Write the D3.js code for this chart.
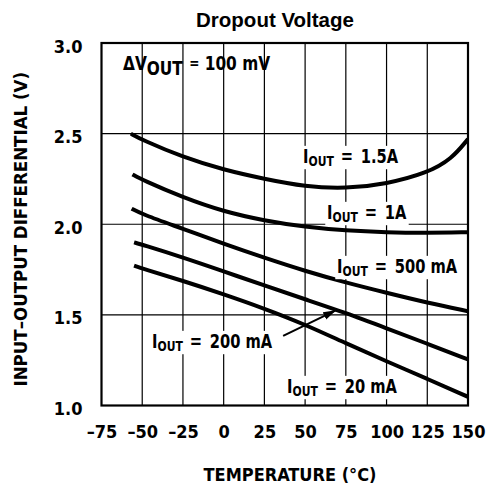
<!DOCTYPE html>
<html>
<head>
<meta charset="utf-8">
<script src="https://cdn.jsdelivr.net/npm/d3@7"></script>
<style>
  body { margin: 0; background: #fff; }
  text { font-family: "DejaVu Sans Condensed", "Liberation Sans Narrow", sans-serif; font-weight: bold; fill: #000; }
</style>
</head>
<body>
<div id="chart"></div>
<script>
// tick values
const tempTicks = [-75, -50, -25, 0, 25, 50, 75, 100, 125, 150];
const voltTicks = [1.0, 1.5, 2.0, 2.5, 3.0];

// curves, [temperature, volts]
const curve1500mA = [[-57, 2.50], [-50, 2.465], [-25, 2.37], [0, 2.30], [25, 2.25], [50, 2.207], [75, 2.196], [100, 2.222], [125, 2.283], [140, 2.36], [150, 2.47]];
const curve1000mA = [[-56, 2.275], [-50, 2.245], [-25, 2.148], [0, 2.07], [25, 2.02], [50, 1.985], [75, 1.965], [100, 1.955], [125, 1.952], [150, 1.956]];
const curve500mA = [[-56.5, 2.086], [-50, 2.055], [-25, 1.975], [0, 1.892], [25, 1.815], [50, 1.742], [75, 1.678], [100, 1.622], [125, 1.567], [150, 1.52]];
const curve200mA = [[-55, 1.90], [-50, 1.887], [-25, 1.817], [0, 1.74], [25, 1.662], [50, 1.586], [75, 1.511], [100, 1.426], [125, 1.341], [150, 1.254]];
const curve20mA = [[-55, 1.772], [-50, 1.756], [-25, 1.688], [0, 1.614], [25, 1.535], [50, 1.447], [75, 1.343], [100, 1.244], [125, 1.147], [150, 1.048]];

const curveLabels = ["1.5A", "1A", "500 mA", "200 mA", "20 mA"];

const width = 486, height = 485;
const margin = {left: 101.5, right: 18, top: 43, bottom: 79.5};

const svg = d3.select("#chart").append("svg")
  .attr("width", width)
  .attr("height", height);

const x = d3.scaleLinear().domain([-75, 150]).range([margin.left, width - margin.right]);
const y = d3.scaleLinear().domain([1.0, 3.0]).range([height - margin.bottom, margin.top]);

// grid
svg.append("g").selectAll("line")
  .data(tempTicks.slice(1, -1))
  .join("line")
  .attr("x1", d => x(d)).attr("x2", d => x(d))
  .attr("y1", y(1)).attr("y2", y(3))
  .attr("stroke", "#000").attr("stroke-width", 1.2);

svg.append("g").selectAll("line")
  .data(voltTicks.slice(1, -1))
  .join("line")
  .attr("x1", x(-75)).attr("x2", x(150))
  .attr("y1", d => y(d)).attr("y2", d => y(d))
  .attr("stroke", "#000").attr("stroke-width", 1.2);

// curves
svg.append("clipPath").attr("id", "plotclip")
  .append("rect")
  .attr("x", x(-75)).attr("y", y(3))
  .attr("width", x(150) - x(-75)).attr("height", y(1) - y(3));

const line = d3.line()
  .x(d => x(d[0]))
  .y(d => y(d[1]))
  .curve(d3.curveBasis);

svg.append("g").attr("clip-path", "url(#plotclip)")
  .selectAll("path")
  .data([curve1500mA, curve1000mA, curve500mA, curve200mA, curve20mA])
  .join("path")
  .attr("d", line)
  .attr("fill", "none")
  .attr("stroke", "#000")
  .attr("stroke-width", 4);

// frame
svg.append("rect")
  .attr("x", x(-75)).attr("y", y(3))
  .attr("width", x(150) - x(-75)).attr("height", y(1) - y(3))
  .attr("fill", "none").attr("stroke", "#000").attr("stroke-width", 2.2);

// axes (tick text only, the frame draws the lines)
const xAxis = svg.append("g")
  .attr("transform", `translate(0,${y(1)})`)
  .call(d3.axisBottom(x).tickValues(tempTicks).tickSize(0).tickPadding(20)
    .tickFormat(d => d < 0 ? "\u2013" + Math.abs(d) : d));
xAxis.select(".domain").remove();
xAxis.selectAll("text").attr("font-size", 18).attr("font-family", null);

const yAxis = svg.append("g")
  .attr("transform", `translate(${x(-75)},0)`)
  .call(d3.axisLeft(y).tickValues(voltTicks).tickSize(0).tickPadding(19)
    .tickFormat(d3.format(".1f")));
yAxis.select(".domain").remove();
yAxis.selectAll("text").attr("font-size", 18).attr("font-family", null).attr("dy", "0.5em");

// titles
svg.append("text")
  .attr("x", 275).attr("y", 27)
  .attr("text-anchor", "middle")
  .style("font-family", "'Liberation Sans', Arial, sans-serif")
  .attr("font-size", 20.5)
  .text("Dropout Voltage");

svg.append("text")
  .attr("x", 290).attr("y", 481)
  .attr("text-anchor", "middle")
  .attr("font-size", 18)
  .text("TEMPERATURE (°C)");

svg.append("text")
  .attr("transform", `translate(27,${(y(1) + y(3)) / 2 + 5}) rotate(-90)`)
  .attr("text-anchor", "middle")
  .attr("font-size", 18.5)
  .text("INPUT–OUTPUT DIFFERENTIAL (V)");

// delta V label
const dv = svg.append("text")
  .attr("transform", "translate(123,70) scale(0.9,1)")
  .attr("font-size", 19);
dv.append("tspan").text("ΔV");
dv.append("tspan").attr("dy", 5).text("OUT");
dv.append("tspan").attr("dy", -7).attr("dx", 7).attr("font-size", 15).text("=");
dv.append("tspan").attr("dy", 2).attr("dx", 6).text("100 mV");

// arrow pointing at the 200 mA curve
svg.append("defs").append("marker")
  .attr("id", "arrowhead")
  .attr("markerUnits", "userSpaceOnUse")
  .attr("markerWidth", 14).attr("markerHeight", 10)
  .attr("refX", 12).attr("refY", 4)
  .attr("orient", "auto")
  .append("path").attr("d", "M0,0L13,4L0,8Z").attr("fill", "#000");

svg.append("line")
  .attr("x1", x(36.5)).attr("y1", y(1.384))
  .attr("x2", x(68.5)).attr("y2", y(1.523))
  .attr("stroke", "#000").attr("stroke-width", 2)
  .attr("marker-end", "url(#arrowhead)");

// I_OUT labels with white backing
const labels = svg.append("g").selectAll("g")
  .data(curveLabels)
  .join("g")
  .attr("transform", (d, i) => {
    const p = [[303, 163], [327, 219], [337, 273], [152, 348], [287, 393]][i];
    return `translate(${p[0]},${p[1]}) scale(0.86,1)`;
  });

labels.each(function(d) {
  const g = d3.select(this);
  const t = g.append("text").attr("font-size", 19);
  t.append("tspan").text("I");
  t.append("tspan").attr("dy", 3).attr("font-size", 14).text("OUT");
  t.append("tspan").attr("dy", -3).attr("dx", 8).text("=");
  t.append("tspan").attr("dx", 9).text(d);
  const bb = t.node().getBBox();
  g.insert("rect", "text")
    .attr("x", bb.x - 2).attr("y", bb.y)
    .attr("width", bb.width + 4).attr("height", bb.height)
    .attr("fill", "#fff");
});
</script>
</body>
</html>
